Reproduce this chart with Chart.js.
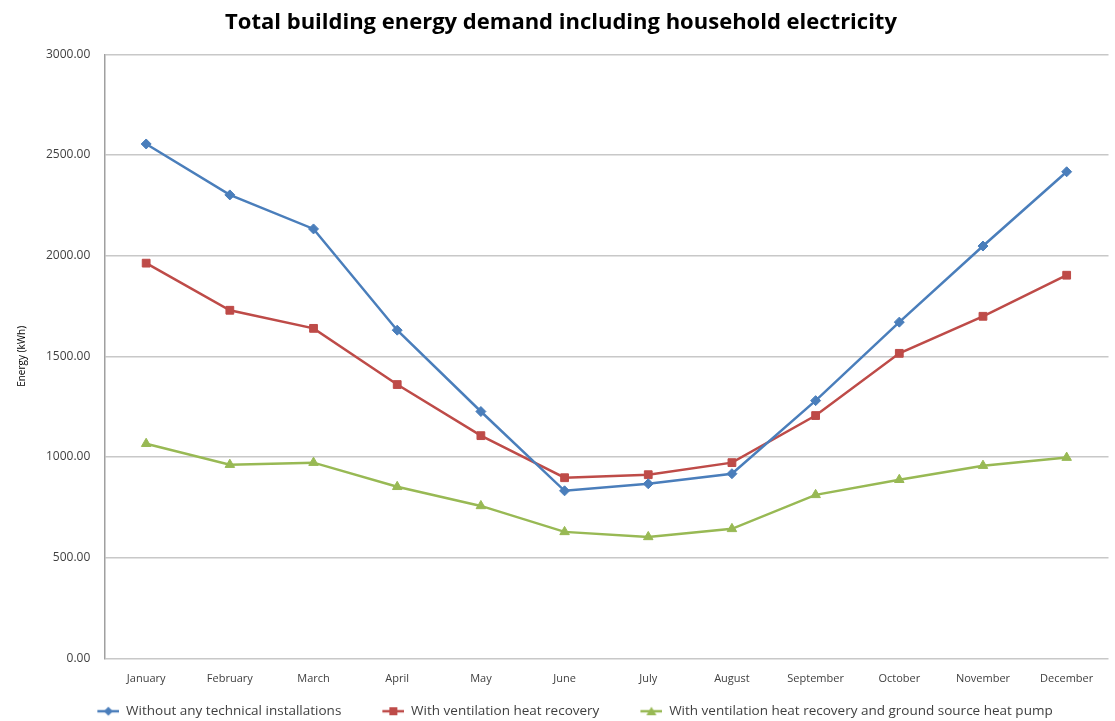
<!DOCTYPE html>
<html>
<head>
<meta charset="utf-8">
<script src="https://cdn.jsdelivr.net/npm/chart.js@4/dist/chart.umd.min.js"></script>
<style>
  html, body { margin: 0; padding: 0; background: #fff; }
  #wrap { width: 1115px; height: 721px; position: relative; }
</style>
</head>
<body>
<div id="wrap"><canvas id="chart"></canvas></div>
<script>
'use strict';

// data
const months = ['January', 'February', 'March', 'April', 'May', 'June', 'July', 'August', 'September', 'October', 'November', 'December'];
const noInstallations = [2555, 2302, 2133, 1630, 1226, 832, 867, 917, 1280, 1670, 2048, 2417];
const ventRecovery = [1963, 1729, 1639, 1360, 1106, 897, 912, 972, 1206, 1515, 1699, 1903];
const ventRecoveryHeatPump = [1066, 962, 972, 852, 757, 628, 603, 643, 812, 887, 957, 997];

const FONT = 'Open Sans, Liberation Sans, sans-serif';
const TXT = '#404040';
const ICON_W = 50, ICON_LINE = 22;

const ds = (label, data, color, style, r) => ({
  label, data,
  borderColor: color, backgroundColor: color,
  borderWidth: 2.5, pointStyle: style, pointRadius: r, pointHoverRadius: r,
  pointBorderWidth: 1, tension: 0, fill: false,
});

// excel-like legend key: short line with the marker in the middle (blank space on the left = gap between items)
function legendIcon(color, style) {
  const c = document.createElement('canvas');
  c.width = ICON_W; c.height = 12;
  const g = c.getContext('2d');
  const x0 = ICON_W - ICON_LINE, cx = x0 + ICON_LINE / 2;
  g.strokeStyle = color; g.lineWidth = 2.5;
  g.beginPath(); g.moveTo(x0, 6); g.lineTo(ICON_W, 6); g.stroke();
  g.fillStyle = color;
  g.beginPath();
  if (style === 'rectRot') { g.moveTo(cx, 1.5); g.lineTo(cx + 4.5, 6); g.lineTo(cx, 10.5); g.lineTo(cx - 4.5, 6); }
  else if (style === 'rect') { g.rect(cx - 4, 2, 8, 8); }
  else { g.moveTo(cx, 1.5); g.lineTo(cx + 5, 10); g.lineTo(cx - 5, 10); }
  g.closePath(); g.fill();
  return c;
}

new Chart(document.getElementById('chart').getContext('2d'), {
  type: 'line',
  data: {
    labels: months,
    datasets: [
      ds('Without any technical installations', noInstallations, '#4a7ebb', 'rectRot', 5),
      ds('With ventilation heat recovery', ventRecovery, '#be4b48', 'rect', 5.5),
      ds('With ventilation heat recovery and ground source heat pump', ventRecoveryHeatPump, '#98b954', 'triangle', 5.5),
    ],
  },
  options: {
    responsive: true,
    maintainAspectRatio: false,
    animation: false,
    layout: { padding: { left: 12, right: 5, top: 4, bottom: -7 } },
    plugins: {
      title: {
        display: true,
        text: 'Total building energy demand including household electricity',
        color: '#000', font: { size: 22, weight: 'bold', family: FONT },
        padding: { top: 6, bottom: 18 },
      },
      legend: {
        position: 'bottom',
        labels: {
          color: TXT, font: { size: 13.5, family: FONT },
          usePointStyle: true, pointStyleWidth: ICON_W, boxHeight: 12, padding: 13,
          generateLabels: chart => Chart.defaults.plugins.legend.labels.generateLabels(chart).map(item => {
            const d = chart.data.datasets[item.datasetIndex];
            return { ...item, pointStyle: legendIcon(d.borderColor, d.pointStyle) };
          }),
        },
      },
      tooltip: { enabled: false },
    },
    scales: {
      x: {
        offset: true,
        grid: { display: false },
        border: { display: false },
        ticks: { color: TXT, font: { size: 11, family: FONT }, padding: 6, maxRotation: 0, autoSkip: false },
      },
      y: {
        min: 0, max: 3000,
        ticks: { stepSize: 500, color: TXT, font: { size: 12, family: FONT }, padding: 14, callback: v => v.toFixed(2) },
        grid: { color: '#c8c8c8', lineWidth: 1.5, drawTicks: false },
        border: { display: true, color: '#a0a0a0', width: 1.5 },
        title: { display: true, text: 'Energy (kWh)', color: '#000', font: { size: 10, family: FONT }, padding: { bottom: 4 } },
      },
    },
  },
});
</script>
</body>
</html>
